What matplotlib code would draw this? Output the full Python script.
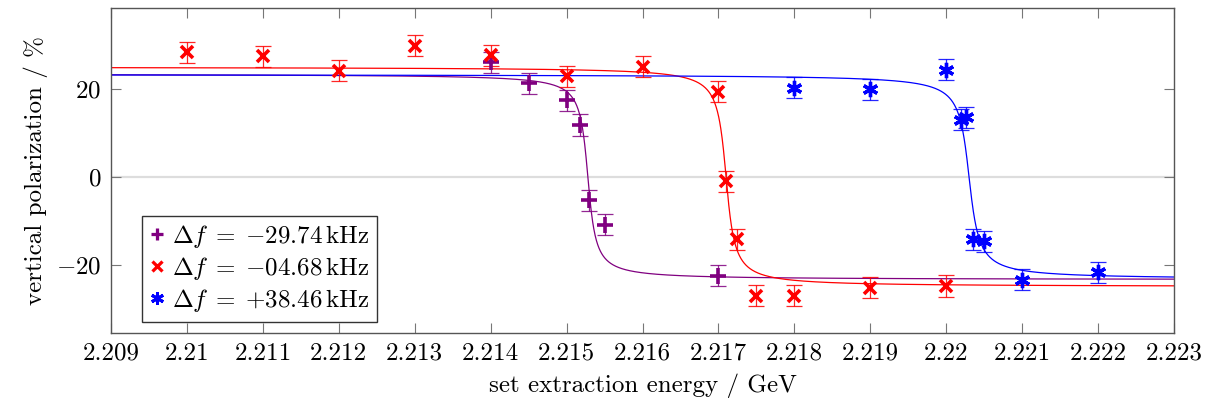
import numpy as np
import matplotlib
matplotlib.use("Agg")
import matplotlib.pyplot as plt
from matplotlib.lines import Line2D

plt.rcParams['font.family'] = 'serif'
plt.rcParams['font.serif'] = ['cmr10']
plt.rcParams['mathtext.fontset'] = 'cm'
plt.rcParams['axes.formatter.use_mathtext'] = True

# ---- data ----
purple_x = [2.2140, 2.2145, 2.2150, 2.21517, 2.2153, 2.2155, 2.2170]
purple_y = [26.1, 21.3, 17.4, 11.8, -5.3, -10.9, -22.5]
purple_err = [2.4, 2.4, 2.4, 2.4, 2.4, 2.4, 2.4]

red_x = [2.210, 2.211, 2.212, 2.213, 2.214, 2.215, 2.216, 2.217, 2.2171, 2.21725, 2.2175, 2.218, 2.219, 2.220]
red_y = [28.3, 27.4, 24.1, 29.8, 27.7, 22.9, 25.1, 19.4, -1.0, -14.2, -27.0, -27.0, -25.2, -24.8]
red_err = [2.4] * 14

blue_x = [2.218, 2.219, 2.220, 2.2202, 2.22026, 2.22035, 2.2205, 2.221, 2.222]
blue_y = [20.3, 19.9, 24.4, 12.95, 13.6, -14.2, -14.6, -23.4, -21.7]
blue_err = [2.4] * 9

labels = [r'$\Delta f\;=\;{-}29.74\,\mathrm{kHz}$',
          r'$\Delta f\;=\;{-}04.68\,\mathrm{kHz}$',
          r'$\Delta f\;=\;{+}38.46\,\mathrm{kHz}$']

# fit parameters: amplitude, resonance energy, width
fit_amp = [23.4, 25.0, 23.3]
fit_center = [2.21528, 2.21710, 2.22030]
fit_width = [0.000077, 0.000084, 0.000097]

xticks = [2.209, 2.210, 2.211, 2.212, 2.213, 2.214, 2.215, 2.216, 2.217, 2.218, 2.219, 2.220, 2.221, 2.222, 2.223]
xticklabels = ['2.209', '2.21', '2.211', '2.212', '2.213', '2.214', '2.215', '2.216',
               '2.217', '2.218', '2.219', '2.22', '2.221', '2.222', '2.223']
yticks = [-20, 0, 20]
yticklabels = [r'$-20$', r'$0$', r'$20$']

colors = ['#800080', '#ff0000', '#0000ff']

fig = plt.figure(figsize=(12.16, 4.07), dpi=100)
ax = fig.add_axes([0.0913, 0.1818, 0.8742, 0.7985])

ax.axhline(0, color='#dddddd', lw=1.6, zorder=0)

xs = np.linspace(2.209, 2.223, 4000)
for A, c0, w, col in zip(fit_amp, fit_center, fit_width, colors):
    ax.plot(xs, -A * (2 / np.pi) * np.arctan((xs - c0) / w), color=col, lw=0.9, zorder=2)

series = [(purple_x, purple_y, purple_err, '+', 11, 2.6),
          (red_x, red_y, red_err, 'x', 8.5, 2.6),
          (blue_x, blue_y, blue_err, (6, 2, 0), 11, 2.4)]
handles = []
for (x, y, e, m, ms, mew), col, lab in zip(series, colors, labels):
    ax.errorbar(x, y, yerr=e, fmt='none', ecolor=col, elinewidth=0.9, capsize=6,
                capthick=0.9, alpha=0.85, zorder=3)
    ax.plot(x, y, linestyle='none', marker=m, ms=ms, mew=mew, color=col, zorder=4)
    handles.append(Line2D([], [], linestyle='none', marker=m, ms=ms * 0.85, mew=mew * 0.9,
                          color=col, label=lab))

ax.set_xlim(2.209, 2.223)
ax.set_ylim(-35.5, 38.4)
ax.set_xticks(xticks)
ax.set_xticklabels(xticklabels)
ax.set_yticks(yticks)
ax.set_yticklabels(yticklabels)
ax.tick_params(direction='in', length=7, width=0.8, color='#777777', top=True, right=True,
               labelsize=18, pad=7)
for s in ax.spines.values():
    s.set_color('#555555')
    s.set_linewidth(1.0)

ax.set_xlabel('set extraction energy / GeV', fontsize=18, labelpad=6)
ax.set_ylabel('vertical polarization / %', fontsize=18, labelpad=6)

leg = ax.legend(handles=handles, loc='lower left', bbox_to_anchor=(0.029, 0.035),
                fontsize=18, frameon=True, fancybox=False, edgecolor='black',
                handlelength=0.6, handletextpad=0.3, borderpad=0.3, labelspacing=0.2,
                borderaxespad=0.0)
leg.get_frame().set_linewidth(1.0)

fig.savefig('out.png', dpi=100)
